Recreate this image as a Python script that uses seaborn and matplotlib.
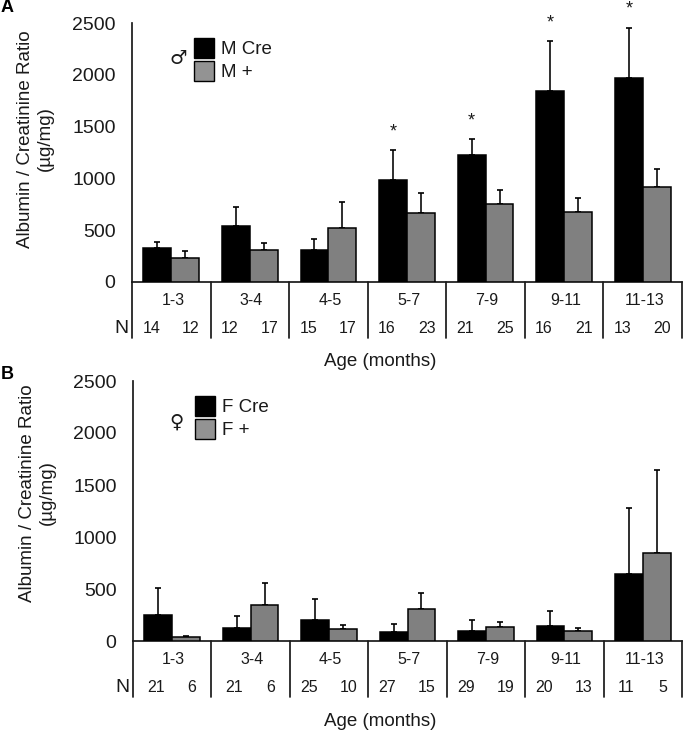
import matplotlib
matplotlib.use('Agg')
import matplotlib.pyplot as plt
from matplotlib.patches import Patch
import numpy as np
import pandas as pd
import seaborn as sns

ages = ['1-3', '3-4', '4-5', '5-7', '7-9', '9-11', '11-13']

m_cre = [325, 540, 310, 980, 1225, 1840, 1965]
m_cre_top = [390, 720, 415, 1275, 1380, 2325, 2455]
m_wt = [230, 305, 525, 665, 750, 680, 920]
m_wt_top = [295, 380, 770, 860, 885, 815, 1090]
m_cre_n = [14, 12, 15, 16, 21, 16, 13]
m_wt_n = [12, 17, 17, 23, 25, 21, 20]
m_stars = ['5-7', '7-9', '9-11', '11-13']

f_cre = [250, 125, 200, 85, 100, 145, 640]
f_cre_top = [505, 245, 400, 160, 200, 285, 1275]
f_wt = [35, 350, 115, 310, 130, 100, 845]
f_wt_top = [50, 555, 150, 460, 185, 125, 1640]
f_cre_n = [21, 21, 25, 27, 29, 20, 11]
f_wt_n = [6, 6, 10, 15, 19, 13, 5]

BLACK = '#000000'
GRAY = '#808080'
INK = '#1a1a1a'
W, H = 684, 733


def draw_panel(box, letter, letter_y, symbol, symbol_xy, names, cre, cre_top, wt, wt_top,
               cre_n, wt_n, stars, xlabel_y, ylabel_x, ylabel_y, narrow=()):
    left, top, right, bottom = box
    ax = fig.add_axes([left / W, 1 - bottom / H, (right - left) / W, (bottom - top) / H])
    df = pd.DataFrame({
        'Age': ages * 2,
        'Group': [names[0]] * 7 + [names[1]] * 7,
        'Value': cre + wt,
    })
    sns.barplot(data=df, x='Age', y='Value', hue='Group', order=ages,
                hue_order=names, palette=[BLACK, GRAY], width=0.71, gap=0,
                edgecolor='black', linewidth=1.1, errorbar=None, legend=False,
                zorder=3, ax=ax)

    # upper error bars only, same x as the bars
    for bars, vals, tops in zip(ax.containers, (cre, wt), (cre_top, wt_top)):
        xs = [b.get_x() + b.get_width() / 2 for b in bars]
        upper = np.array(tops) - np.array(vals)
        ax.errorbar(xs, vals, yerr=[np.zeros(7), upper], fmt='none', ecolor='black',
                    elinewidth=1.15, capsize=2.5, capthick=1.2, zorder=2)

    ax.set_xlim(-0.5, 6.5)
    ax.set_ylim(0, 2500)
    ax.set_yticks(range(0, 2501, 500))
    ax.tick_params(axis='y', length=4.3, width=1.2, color=INK, labelsize=14,
                   labelcolor=INK, pad=7.5)
    ax.set_xticks([])
    ax.set_xlabel('')
    ax.set_ylabel('')
    ax.patch.set_alpha(0)
    sns.despine(ax=ax, right=True, top=True)
    for side in ('left', 'bottom'):
        ax.spines[side].set_linewidth(1.25)
        ax.spines[side].set_color(INK)

    # y title sits off centre in the original
    fig.text(ylabel_x / W, 1 - ylabel_y / H, 'Albumin / Creatinine Ratio\n(µg/mg)',
             rotation=90, ha='center', va='center', ma='center', fontsize=13.5,
             color=INK, linespacing=1.25)

    # table under the axis: separators, age labels, N counts
    to_y = lambda px: -(px - bottom) / (bottom - top) * 2500
    for k in range(8):
        ax.plot([k - 0.5, k - 0.5], [0, to_y(bottom + 56)], color=INK, lw=1.25,
                clip_on=False, zorder=1)
    for k, age in enumerate(ages):
        ax.text(k + 0.02, to_y(bottom + 18.5), age, ha='center', va='center', fontsize=11.5,
                color=INK)
        shift = -0.21 if k in narrow else -0.255
        ax.text(k + shift, to_y(bottom + 46.5), str(cre_n[k]), ha='center', va='center',
                fontsize=11.5, color=INK)
        ax.text(k + 0.25, to_y(bottom + 46.5), str(wt_n[k]), ha='center', va='center',
                fontsize=11.5, color=INK)
    ax.text(-0.54, to_y(bottom + 46.5), 'N', ha='right', va='center', fontsize=14, color=INK)

    for age in stars:
        k = ages.index(age)
        xpos = ax.containers[0][k].get_x() + ax.containers[0][k].get_width() / 2
        ax.annotate('*', (xpos, cre_top[k]), xytext=(0, 7), textcoords='offset points',
                    ha='center', va='bottom', fontsize=13, color=INK, annotation_clip=False)

    fig.text(380 / W, 1 - xlabel_y / H, 'Age (months)', ha='center', va='center',
             fontsize=13.5, color=INK)
    fig.text(1 / W, 1 - letter_y / H, letter, ha='left', va='center', fontsize=13,
             fontweight='bold', color='black')

    handles = [Patch(facecolor=BLACK, edgecolor='black', label=names[0]),
               Patch(facecolor='#939393', edgecolor='black', label=names[1])]
    ax.legend(handles=handles, loc='upper left',
              bbox_to_anchor=(62 / (right - left), 1 - 15 / (bottom - top)),
              frameon=False, fontsize=13.5, handlelength=1.05, handleheight=1.3,
              handletextpad=0.4, labelspacing=0.12, borderpad=0, borderaxespad=0,
              labelcolor=INK)
    fig.text(symbol_xy[0] / W, 1 - symbol_xy[1] / H, symbol, ha='center', va='center',
             fontsize=14, color=INK, family='DejaVu Sans')


sns.set_theme(style='white')
plt.rcParams['font.family'] = ['Liberation Sans', 'DejaVu Sans']
fig = plt.figure(figsize=(W / 100, H / 100), dpi=100, facecolor='white')

draw_panel((132, 23, 682, 282), 'A', 8, '\u2642', (178, 58), ['M Cre', 'M +'], m_cre, m_cre_top,
           m_wt, m_wt_top, m_cre_n, m_wt_n, m_stars, 362, 35.5, 139)
draw_panel((133, 381, 682, 641), 'B', 374, '\u2640', (176, 422), ['F Cre', 'F +'], f_cre, f_cre_top,
           f_wt, f_wt_top, f_cre_n, f_wt_n, [], 722, 37.5, 493, narrow=(0, 1, 6))

fig.savefig('out.png', dpi=100)
